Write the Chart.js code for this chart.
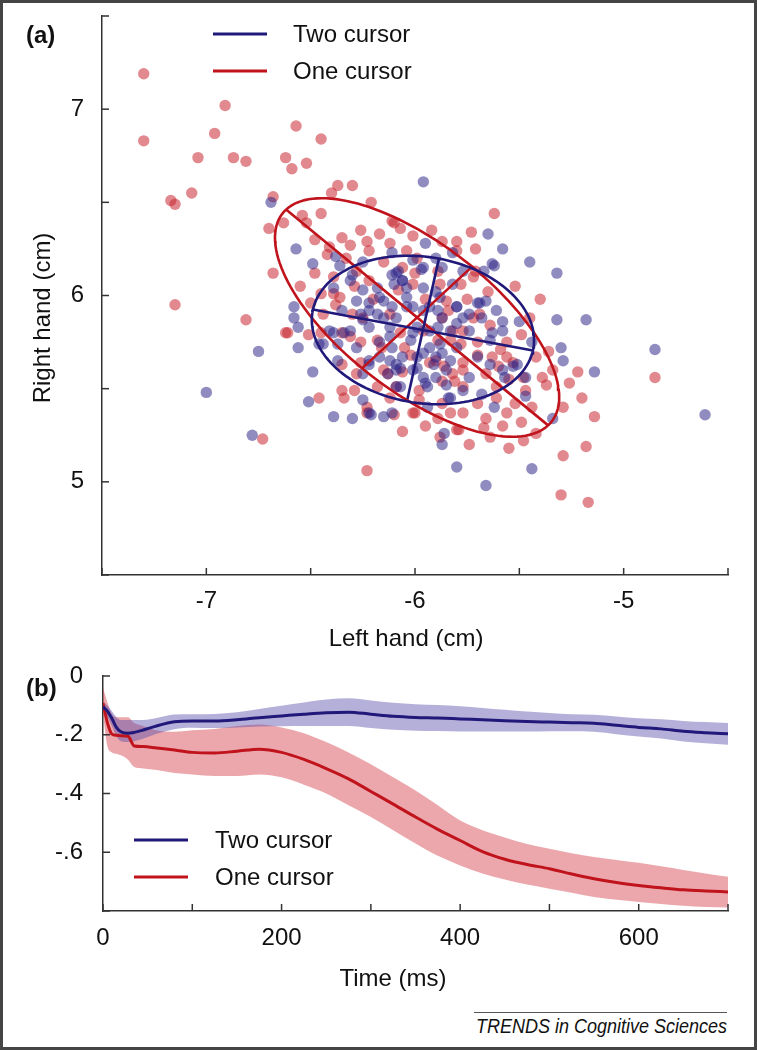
<!DOCTYPE html>
<html>
<head>
<meta charset="utf-8">
<title>Cursor coupling</title>
<script src="https://cdn.jsdelivr.net/npm/chart.js@4.4.1/dist/chart.umd.min.js"></script>
<style>
  body { margin: 0; background: #fff; font-family: "Liberation Sans", Arial, sans-serif; color: #111; }
  #page { position: relative; width: 757px; height: 1050px; overflow: hidden; }
  #frame { position: absolute; left: 0; top: 0; width: 757px; height: 1050px; box-sizing: border-box; border: 3px solid #454545; }
  canvas { position: absolute; left: 0; }
  .lbl { position: absolute; font-size: 24px; line-height: 28px; white-space: nowrap; }
  .tag { font-weight: bold; }
  #footer { position: absolute; left: 474px; top: 1012px; width: 253px; height: 26px; border-top: 1.5px solid #555; white-space: nowrap; }
  #footer span { position: absolute; right: 0; top: 0; font-style: italic; font-size: 20px; line-height: 26px; transform: scaleX(0.9); transform-origin: right center; }
</style>
</head>
<body>
<div id="page">
  <div id="frame"></div>
  <canvas id="scatterChart" width="757" height="660" style="top:0"></canvas>
  <canvas id="timeChart" width="757" height="340" style="top:655px"></canvas>

  <div class="lbl tag" style="left:26px; top:21px">(a)</div>
  <div class="lbl tag" style="left:26px; top:674px">(b)</div>
  <div class="lbl" style="left:42px; top:318px; transform: translate(-50%,-50%) rotate(-90deg)">Right hand (cm)</div>
  <div class="lbl" style="left:406px; top:624px; transform: translateX(-50%)">Left hand (cm)</div>
  <div class="lbl" style="left:393px; top:964px; transform: translateX(-50%)">Time (ms)</div>
  <div id="footer"><span>TRENDS in Cognitive Sciences</span></div>
</div>

<script>
// ---- panel (a): end point positions, [left hand, right hand] in cm
const twoCursorPts = [
  [-6.69,6.50],[-6.57,6.25],[-6.49,6.17],[-7.00,5.48],[-6.78,5.25],[-6.75,5.70],[-6.49,5.59],[-6.51,5.43],
  [-6.39,5.35],[-6.30,5.34],[-6.56,5.72],[-6.58,5.88],[-6.56,5.83],[-6.58,5.94],[-6.44,5.74],[-6.39,5.80],
  [-6.34,5.80],[-6.25,5.44],[-6.21,5.36],[-5.96,6.61],[-5.65,6.33],[-5.58,6.25],[-5.45,6.18],[-5.32,6.12],
  [-5.62,6.16],[-5.95,6.28],[-6.11,6.23],[-5.82,6.23],[-5.97,6.14],[-5.32,5.87],[-5.18,5.87],[-4.85,5.71],
  [-4.61,5.36],[-5.14,5.59],[-5.30,5.72],[-5.29,5.65],[-5.80,5.08],[-5.44,5.07],[-5.66,4.98],[-5.87,5.20],
  [-5.86,5.26],[-5.34,5.34],[-5.47,5.46],[-5.62,5.40],[-5.77,5.49],[-5.84,5.45],[-6.11,5.37],[-6.15,5.35],
  [-6.07,5.51],[-5.95,5.53],[-5.85,5.52],[-5.57,5.56],[-5.53,5.62],[-5.47,5.56],[-5.58,5.86],[-5.50,5.86],
  [-5.69,5.96],[-5.63,5.80],[-5.44,5.75],[-5.80,5.85],[-5.74,5.81],[-5.89,5.92],[-5.88,5.74],[-5.96,5.69],
  [-6.01,5.60],[-6.07,5.61],[-6.13,5.58],[-6.38,6.21],[-6.36,6.16],[-6.30,6.11],[-6.25,6.18],[-5.96,6.15],
  [-5.87,6.15],[-5.90,6.20],[-5.77,6.13],[-5.67,6.13],[-5.63,6.17],[-6.01,6.19],[-5.82,6.06],[-5.90,6.02],
  [-6.08,6.13],[-6.06,6.08],[-6.11,6.11],[-6.04,6.04],[-5.96,6.04],[-6.31,6.08],[-6.39,6.04],[-6.25,6.03],
  [-6.18,6.04],[-6.15,5.97],[-6.22,5.96],[-6.28,5.97],[-6.35,5.92],[-6.26,5.90],[-6.18,5.90],[-6.11,5.94],
  [-6.04,5.94],[-5.96,5.92],[-5.87,5.88],[-5.80,5.94],[-5.74,5.90],[-5.68,5.88],[-5.83,5.81],[-5.89,5.83],
  [-5.99,5.83],[-6.12,5.83],[-6.22,5.83],[-6.31,5.81],[-6.41,5.81],[-6.46,5.74],[-6.37,5.74],[-6.28,5.72],
  [-6.17,5.75],[-6.11,5.72],[-6.02,5.76],[-5.93,5.72],[-5.87,5.69],[-5.80,5.72],[-6.37,5.65],[-6.22,5.65],
  [-6.12,5.65],[-6.06,5.67],[-5.99,5.61],[-5.91,5.63],[-5.83,5.65],[-6.25,5.58],[-6.09,5.60],[-6.09,5.51],
  [-5.90,5.56],[-5.94,5.51],[-5.83,5.45],[-5.74,5.56],[-5.68,5.47],[-5.94,5.40],[-6.22,5.37],
  [-6.09,6.12],[-6.06,6.08],[-6.10,6.06],[-6.04,5.99],[-6.01,5.94],[-6.17,5.99],[-6.22,5.92],[-6.25,5.87],
  [-6.15,5.88],[-6.09,5.88],[-5.93,5.94],[-5.88,5.99],[-5.80,5.94],[-5.77,5.88],[-5.70,5.96],[-5.66,5.97],
  [-5.61,5.92],[-5.58,5.81],[-5.64,5.76],[-5.93,5.81],[-6.01,5.80],[-6.12,5.78],[-6.17,5.67],[-6.09,5.63],
  [-5.99,5.67],[-5.90,5.67],[-5.85,5.60],[-5.70,5.67],[-5.64,5.63],[-5.58,5.60],[-5.51,5.63],[-5.96,5.56],
  [-6.22,5.63]
];
const oneCursorPts = [
  [-7.30,7.19],[-7.30,6.83],[-6.91,7.02],[-6.96,6.87],[-7.04,6.74],[-6.87,6.74],[-6.81,6.72],[-7.17,6.51],
  [-7.15,6.49],[-7.07,6.55],[-6.57,6.91],[-6.45,6.84],[-6.62,6.74],[-6.59,6.68],[-6.52,6.71],[-6.37,6.59],
  [-6.30,6.59],[-6.68,6.53],[-6.40,6.55],[-6.21,6.50],[-6.45,6.44],[-6.54,6.43],[-6.52,6.39],[-6.63,6.39],
  [-6.70,6.36],[-6.26,6.35],[-6.35,6.31],[-6.23,6.29],[-6.68,6.12],[-6.41,6.26],[-6.31,6.27],[-7.15,5.95],
  [-6.81,5.87],[-6.62,5.80],[-6.50,5.96],[-6.46,5.45],[-6.34,5.45],[-6.73,5.23],[-6.23,5.06],[-6.23,5.37],
  [-6.35,5.63],[-6.39,6.01],[-6.38,5.95],[-6.51,5.79],[-6.29,5.49],[-5.62,6.44],[-5.73,6.34],[-5.71,6.25],
  [-5.80,6.29],[-5.92,6.35],[-6.01,6.32],[-6.11,6.40],[-6.07,6.36],[-5.40,5.98],[-5.71,6.13],[-5.88,6.06],
  [-6.01,6.06],[-4.85,5.56],[-5.14,5.35],[-5.20,5.45],[-5.22,5.59],[-5.26,5.53],[-5.18,5.19],[-5.29,5.14],
  [-5.30,4.93],[-5.17,4.89],[-5.29,5.40],[-5.37,5.52],[-5.39,5.56],[-5.42,5.26],[-5.48,5.22],[-5.64,5.24],
  [-5.67,5.29],[-5.56,5.37],[-5.49,5.32],[-5.77,5.37],[-5.80,5.28],[-5.88,5.24],[-6.06,5.27],[-6.00,5.37],
  [-5.98,5.44],[-5.81,5.54],[-5.61,5.45],[-5.47,5.49],[-5.53,5.64],[-5.42,5.67],[-5.63,5.67],[-5.70,5.75],
  [-5.49,5.79],[-5.59,5.71],[-5.77,5.81],[-5.90,5.65],[-5.77,5.60],[-5.69,5.90],[-5.56,5.75],[-5.85,5.97],
  [-6.17,6.33],[-6.10,6.39],[-5.87,6.29],[-6.22,6.24],[-6.04,6.24],[-5.99,6.20],[-5.80,6.24],[-6.39,6.10],
  [-6.28,6.13],[-6.06,6.15],[-6.36,5.99],[-6.45,6.01],[-6.61,5.80],[-6.45,5.80],[-6.35,5.80],[-6.26,5.75],
  [-6.16,5.72],[-6.07,5.80],[-5.96,5.81],[-5.89,5.76],[-5.83,5.76],[-6.26,5.64],[-6.13,5.58],[-6.06,5.59],
  [-5.93,5.64],[-5.82,5.58],[-6.18,5.51],[-5.98,5.49],[-5.77,5.51],[-6.23,5.40],[-6.10,5.36],[-6.01,5.37],
  [-5.89,5.34],[-5.83,5.37],[-5.66,5.34],[-5.79,5.28],[-5.78,6.06],[-5.72,6.10],[-6.08,6.03],[-6.22,6.08],
  [-6.29,6.05],[-6.25,5.88],[-5.87,5.88],[-5.72,5.88],[-5.64,5.84],[-5.82,5.81],[-6.18,5.76],[-6.31,5.78],
  [-6.05,5.72],[-5.77,5.64],[-5.56,5.67],[-5.48,5.56],[-6.15,5.60],[-6.09,5.51],[-5.87,5.54],[-5.61,5.51],
  [-6.28,5.58],[-6.35,5.49],[-5.87,5.42],[-5.89,6.13],
  [-6.48,6.30],[-6.42,6.22],[-6.33,6.20],[-6.15,6.18],[-6.12,6.28],[-6.00,6.12],[-5.95,5.98],[-5.84,5.92],
  [-5.78,5.74],[-5.70,5.68],[-5.66,5.58],[-5.60,5.62],[-5.55,5.55],[-5.52,5.42],[-5.44,5.40],[-5.58,5.30],
  [-5.70,5.42],[-5.86,5.62],[-6.02,5.68],[-6.12,5.90],[-6.20,5.98],[-6.30,5.90],[-6.44,5.90],[-6.55,6.05],
  [-6.48,6.12],[-5.75,5.98],[-5.65,6.02],[-5.52,6.05],[-5.45,5.88],[-5.36,5.70],[-5.34,5.60],[-5.95,5.30],
  [-6.12,5.45],[-5.74,5.20],[-5.55,5.18]
];
// covariance ellipses: centre, semi-major and semi-minor axis vectors (cm)
const twoEllipseCentre = [-5.962, 5.815];
const twoEllipseMajor = [0.527, -0.110];
const twoEllipseMinor = [0.0767, 0.383];
const oneEllipseCentre = [-5.990, 5.882];
const oneEllipseMajor = [0.628, -0.579];
const oneEllipseMinor = [0.2635, 0.273];

// ---- panel (b): correlation over time
const timeMs = [0,5,10,15,20,28,35,45,60,80,100,125,150,175,200,225,250,275,300,325,350,375,400,425,450,475,500,525,550,575,600,625,650,675,700];
const twoMean = [-0.105,-0.120,-0.145,-0.175,-0.190,-0.195,-0.192,-0.184,-0.170,-0.156,-0.153,-0.153,-0.149,-0.142,-0.136,-0.130,-0.125,-0.123,-0.130,-0.137,-0.141,-0.143,-0.146,-0.149,-0.152,-0.155,-0.157,-0.159,-0.161,-0.168,-0.175,-0.180,-0.188,-0.193,-0.197];
const twoUpper = [-0.090,-0.100,-0.120,-0.140,-0.150,-0.150,-0.150,-0.150,-0.143,-0.131,-0.130,-0.129,-0.123,-0.112,-0.101,-0.090,-0.080,-0.076,-0.083,-0.091,-0.096,-0.099,-0.103,-0.109,-0.115,-0.121,-0.126,-0.130,-0.132,-0.138,-0.144,-0.147,-0.153,-0.157,-0.160];
const twoLower = [-0.120,-0.140,-0.170,-0.205,-0.222,-0.225,-0.222,-0.214,-0.197,-0.181,-0.176,-0.177,-0.175,-0.172,-0.171,-0.170,-0.170,-0.170,-0.177,-0.183,-0.186,-0.187,-0.189,-0.189,-0.189,-0.189,-0.188,-0.188,-0.190,-0.198,-0.206,-0.213,-0.223,-0.229,-0.234];
const oneMean = [-0.092,-0.160,-0.198,-0.202,-0.203,-0.205,-0.238,-0.240,-0.245,-0.252,-0.260,-0.262,-0.256,-0.249,-0.260,-0.284,-0.315,-0.350,-0.393,-0.436,-0.480,-0.522,-0.560,-0.598,-0.624,-0.642,-0.656,-0.674,-0.690,-0.703,-0.713,-0.721,-0.728,-0.732,-0.735];
const oneUpper = [-0.040,-0.090,-0.130,-0.140,-0.140,-0.140,-0.160,-0.170,-0.185,-0.190,-0.185,-0.180,-0.170,-0.165,-0.175,-0.195,-0.225,-0.260,-0.300,-0.345,-0.390,-0.440,-0.492,-0.525,-0.550,-0.572,-0.588,-0.603,-0.616,-0.626,-0.636,-0.648,-0.660,-0.672,-0.683];
const oneLower = [-0.130,-0.240,-0.260,-0.265,-0.270,-0.285,-0.310,-0.315,-0.320,-0.330,-0.335,-0.340,-0.340,-0.335,-0.345,-0.370,-0.400,-0.440,-0.480,-0.525,-0.570,-0.612,-0.645,-0.672,-0.693,-0.710,-0.724,-0.738,-0.752,-0.762,-0.769,-0.776,-0.782,-0.786,-0.788];

const FONT = '"Liberation Sans", Arial, sans-serif';
const BLUE = '#21197a';
const RED = '#c0131c';
Chart.defaults.font.family = FONT;
Chart.defaults.color = '#111';

function pairsToXY(pts) {
  return pts.map(p => ({ x: p[0], y: p[1] }));
}
function seriesToXY(xs, ys) {
  return xs.map((x, i) => ({ x: x, y: ys[i] }));
}
// outline of an ellipse from its centre and axis vectors
function ellipseOutline(c, a, b) {
  const pts = [];
  for (let i = 0; i <= 144; i++) {
    const t = i / 144 * 2 * Math.PI;
    pts.push({ x: c[0] + a[0] * Math.cos(t) + b[0] * Math.sin(t), y: c[1] + a[1] * Math.cos(t) + b[1] * Math.sin(t) });
  }
  return pts;
}
function axisSegment(c, v) {
  return [{ x: c[0] - v[0], y: c[1] - v[1] }, { x: c[0] + v[0], y: c[1] + v[1] }];
}
function lineSet(data, color, order) {
  return { data: data, showLine: true, borderColor: color, borderWidth: 2.6, pointRadius: 0, fill: false, tension: 0, order: order };
}

// small tick marks pointing into the plot
const inwardTicks = {
  id: 'inwardTicks',
  afterDraw(chart) {
    const { ctx, chartArea, scales } = chart;
    ctx.save();
    ctx.strokeStyle = '#333';
    ctx.lineWidth = 1.5;
    scales.x.ticks.forEach(t => {
      const px = scales.x.getPixelForValue(t.value);
      ctx.beginPath(); ctx.moveTo(px, chartArea.bottom); ctx.lineTo(px, chartArea.bottom - 7); ctx.stroke();
    });
    scales.y.ticks.forEach(t => {
      const py = scales.y.getPixelForValue(t.value);
      ctx.beginPath(); ctx.moveTo(chartArea.left, py); ctx.lineTo(chartArea.left + 7, py); ctx.stroke();
    });
    ctx.restore();
  }
};

// legend drawn as line swatches, built from the datasets that carry a label
const lineLegend = {
  id: 'lineLegend',
  afterDraw(chart, args, opts) {
    const { ctx } = chart;
    const items = chart.data.datasets.filter(d => d.legendLabel);
    ctx.save();
    ctx.font = '24px ' + FONT;
    ctx.textBaseline = 'middle';
    items.forEach((d, i) => {
      const y = opts.y + i * opts.gap;
      ctx.strokeStyle = d.borderColor;
      ctx.lineWidth = 3;
      ctx.beginPath(); ctx.moveTo(opts.x, y); ctx.lineTo(opts.x + 54, y); ctx.stroke();
      ctx.fillStyle = '#111';
      ctx.fillText(d.legendLabel, opts.textX, y + 1);
    });
    ctx.restore();
  }
};

const isWhole = v => Math.abs(v - Math.round(v)) < 1e-6;

new Chart(document.getElementById('scatterChart'), {
  type: 'scatter',
  data: {
    datasets: [
      Object.assign(lineSet(ellipseOutline(twoEllipseCentre, twoEllipseMajor, twoEllipseMinor), BLUE, 0), { legendLabel: 'Two cursor' }),
      Object.assign(lineSet(ellipseOutline(oneEllipseCentre, oneEllipseMajor, oneEllipseMinor), RED, 0), { legendLabel: 'One cursor' }),
      lineSet(axisSegment(twoEllipseCentre, twoEllipseMajor), BLUE, 0),
      lineSet(axisSegment(twoEllipseCentre, twoEllipseMinor), BLUE, 0),
      lineSet(axisSegment(oneEllipseCentre, oneEllipseMajor), RED, 0),
      lineSet(axisSegment(oneEllipseCentre, oneEllipseMinor), RED, 0),
      { label: 'Two cursor', data: pairsToXY(twoCursorPts), backgroundColor: 'rgba(45,35,135,0.52)', borderWidth: 0, pointRadius: 5.7, order: 1 },
      { label: 'One cursor', data: pairsToXY(oneCursorPts), backgroundColor: 'rgba(200,40,50,0.55)', borderWidth: 0, pointRadius: 5.7, order: 2 }
    ]
  },
  options: {
    responsive: false,
    animation: false,
    events: [],
    layout: { padding: { left: 0, top: 16, right: 29, bottom: 0 } },
    plugins: {
      legend: { display: false },
      tooltip: { enabled: false },
      lineLegend: { x: 213, textX: 293, y: 34, gap: 37 }
    },
    scales: {
      x: {
        type: 'linear', min: -7.5, max: -4.5,
        grid: { display: false },
        border: { color: '#333', width: 1.5 },
        ticks: { stepSize: 0.5, padding: 4, autoSkip: false, maxRotation: 0, font: { size: 24 },
          callback: v => isWhole(v) ? String(Math.round(v)) : '' },
        afterFit(s) { s.height = 85; s.paddingLeft = 0; s.paddingRight = 0; }
      },
      y: {
        type: 'linear', min: 4.5, max: 7.5,
        grid: { display: false },
        border: { color: '#333', width: 1.5 },
        ticks: { stepSize: 0.5, padding: 10, autoSkip: false, font: { size: 24 },
          callback: v => isWhole(v) ? String(Math.round(v)) : '' },
        afterFit(s) { s.width = 102; s.paddingTop = 0; s.paddingBottom = 0; }
      }
    }
  },
  plugins: [inwardTicks, lineLegend]
});

function bandSet(data, fillColor, order) {
  return { data: data, borderWidth: 0, pointRadius: 0, fill: fillColor ? '-1' : false, backgroundColor: fillColor || 'transparent', cubicInterpolationMode: 'monotone', order: order };
}
function meanSet(data, color, label, order) {
  return { data: data, borderColor: color, borderWidth: 3, pointRadius: 0, fill: false, cubicInterpolationMode: 'monotone', legendLabel: label, order: order };
}

new Chart(document.getElementById('timeChart'), {
  type: 'line',
  data: {
    datasets: [
      meanSet(seriesToXY(timeMs, twoMean), BLUE, 'Two cursor', 1),
      meanSet(seriesToXY(timeMs, oneMean), RED, 'One cursor', 2),
      bandSet(seriesToXY(timeMs, twoUpper), null, 3),
      bandSet(seriesToXY(timeMs, twoLower), 'rgba(90,80,170,0.45)', 3),
      bandSet(seriesToXY(timeMs, oneUpper), null, 4),
      bandSet(seriesToXY(timeMs, oneLower), 'rgba(210,60,70,0.45)', 4)
    ]
  },
  options: {
    responsive: false,
    animation: false,
    events: [],
    layout: { padding: { left: 0, top: 21, right: 29, bottom: 0 } },
    plugins: {
      legend: { display: false },
      tooltip: { enabled: false },
      lineLegend: { x: 134, textX: 215, y: 185, gap: 37 }
    },
    scales: {
      x: {
        type: 'linear', min: 0, max: 700,
        grid: { display: false },
        border: { color: '#333', width: 1.5 },
        ticks: { stepSize: 100, padding: 5, autoSkip: false, maxRotation: 0, font: { size: 24 },
          callback: v => (Math.round(v) % 200 === 0) ? String(Math.round(v)) : '' },
        afterFit(s) { s.height = 84; s.paddingLeft = 0; s.paddingRight = 0; }
      },
      y: {
        type: 'linear', min: -0.8, max: 0,
        grid: { display: false },
        border: { color: '#333', width: 1.5 },
        ticks: { stepSize: 0.2, padding: 12, autoSkip: false, font: { size: 24 },
          callback: v => {
            const k = Math.round(-v * 10);
            if (k === 0) return '0';
            return k < 8 ? '-.' + k : '';
          } },
        afterFit(s) { s.width = 103; s.paddingTop = 0; s.paddingBottom = 0; }
      }
    }
  },
  plugins: [inwardTicks, lineLegend]
});
</script>
</body>
</html>
